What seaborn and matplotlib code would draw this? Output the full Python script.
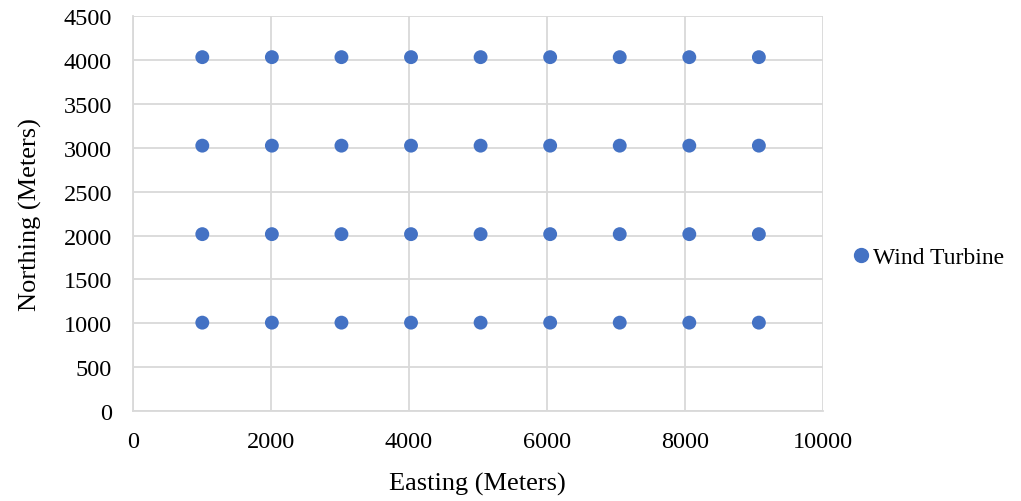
import numpy as np
import pandas as pd
import matplotlib
matplotlib.use('Agg')
import matplotlib.pyplot as plt
import seaborn as sns

# turbine grid (meters)
easting = [1008, 2016, 3024, 4032, 5040, 6048, 7056, 8064, 9072]
northing = [1008, 2016, 3024, 4032]

df = pd.DataFrame([(e, n) for n in northing for e in easting],
                  columns=['Easting', 'Northing'])
df['label'] = 'Wind Turbine'

sns.set_theme(style='whitegrid')
plt.rcParams['font.family'] = ['Liberation Serif', 'DejaVu Serif']

fig = plt.figure(figsize=(10.21, 5.02), dpi=100)
ax = fig.add_axes([0.130, 0.179, 0.676, 0.787])

sns.scatterplot(data=df, x='Easting', y='Northing', hue='label',
                palette=['#4472C4'], s=100, edgecolor='none', ax=ax, legend=False)

ax.set_xlim(0, 10000)
ax.set_ylim(0, 4500)
ax.set_xticks(np.arange(0, 10001, 2000))
ax.set_yticks(np.arange(0, 4501, 500))
ax.grid(True, color='#d9d9d9', linewidth=1.3)
for side, sp in ax.spines.items():
    sp.set_visible(side in ('left', 'bottom'))
    sp.set_color('#d9d9d9')
    sp.set_linewidth(1.3)
ax.tick_params(axis='both', labelsize=17.5, colors='black', length=0)
ax.tick_params(axis='y', pad=15)
ax.tick_params(axis='x', pad=14)
ax.set_xlabel('Easting (Meters)', fontsize=19, color='black')
ax.set_ylabel('Northing (Meters)', fontsize=19, color='black')
ax.xaxis.set_label_coords(0.5, -0.155)
ax.yaxis.set_label_coords(-0.132, 0.5)

h = plt.Line2D([], [], marker='o', linestyle='none', color='#4472C4',
               markersize=10)
leg = fig.legend([h], ['Wind Turbine'], loc='center left', bbox_to_anchor=(0.811, 0.486),
                 frameon=False, fontsize=17, handletextpad=0.0, handlelength=1.0)
for t in leg.get_texts():
    t.set_color('black')

fig.savefig('out.png', dpi=100)
